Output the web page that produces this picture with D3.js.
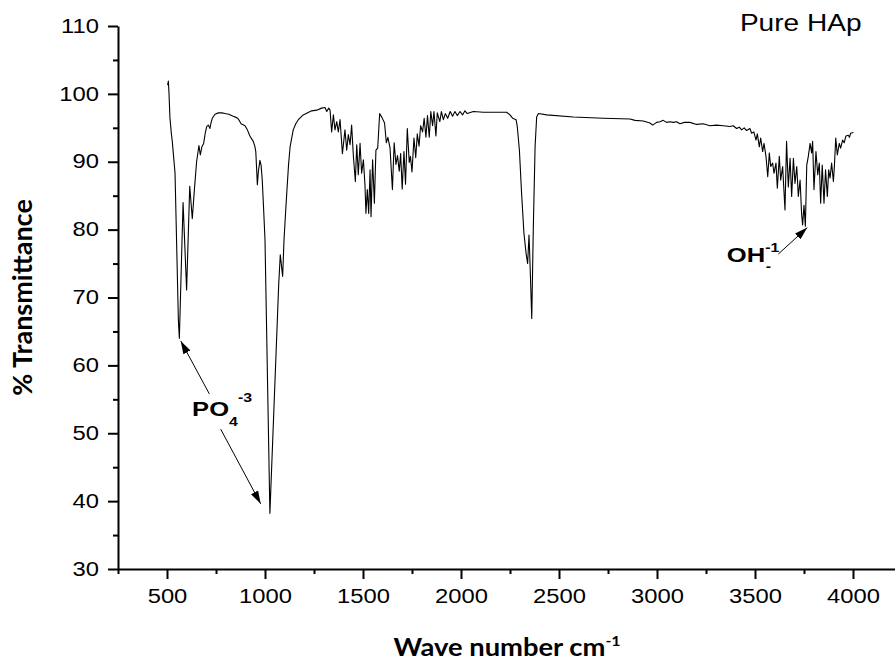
<!DOCTYPE html>
<html>
  <head>
    <meta charset="utf-8">
    <script src="https://d3js.org/d3.v7.min.js"></script>
    <title>FTIR spectrum - Pure HAp</title>
    <style>
      body {
        margin: 0px;
        background: #fff;
      }
      svg {
        display: block;
      }
      .tick text {
        fill: #000;
        font-size: 19.5px;
        font-family: "Liberation Sans", Arial, sans-serif;
      }
      .domain, .tick line {
        stroke: #000;
        stroke-width: 2px;
      }
      .axis-label {
        fill: #000;
        font-weight: bold;
        font-family: Lato, "Open Sans", sans-serif;
      }
      .note {
        fill: #000;
        font-family: "Liberation Sans", Arial, sans-serif;
      }
    </style>
  </head>
  <body>
    <svg width="895" height="661"></svg>
    <script>

      // spectrum (cm-1, % transmittance)
      const waveNumber = [
        503, 507, 510, 515, 522, 527, 541, 558, 563, 582, 600, 616, 629, 640, 651, 663, 670, 678, 687, 695,
        703, 711, 719, 725, 731, 745, 762, 780, 796, 815, 838, 855, 864, 878, 898, 910, 923, 940, 948, 953,
        958, 961, 966, 974, 980, 986, 993, 1000, 1025, 1070, 1078, 1090, 1097, 1104, 1111, 1120, 1128, 1144, 1157, 1170,
        1195, 1238, 1264, 1289, 1306, 1315, 1325, 1332, 1340, 1349, 1357, 1366, 1374, 1383, 1395, 1408, 1417, 1425, 1434, 1442,
        1451, 1461, 1468, 1476, 1485, 1493, 1502, 1510, 1515, 1522, 1529, 1536, 1541, 1549, 1558, 1566, 1575, 1585, 1597, 1610,
        1619, 1627, 1638, 1650, 1659, 1668, 1676, 1685, 1692, 1700, 1709, 1717, 1726, 1736, 1742, 1750, 1760, 1769, 1777, 1786,
        1794, 1804, 1812, 1821, 1829, 1838, 1846, 1855, 1862, 1872, 1879, 1892, 1900, 1910, 1920, 1932, 1945, 1957, 1969, 1981,
        1995, 2008, 2020, 2032, 2063, 2114, 2182, 2233, 2250, 2264, 2281, 2287, 2298, 2309, 2321, 2332, 2340, 2347, 2351, 2361,
        2369, 2378, 2386, 2395, 2437, 2573, 2726, 2862, 2888, 2930, 2964, 2978, 2998, 3015, 3032, 3049, 3066, 3083, 3100, 3117,
        3140, 3168, 3202, 3236, 3270, 3304, 3338, 3372, 3389, 3406, 3420, 3432, 3445, 3457, 3474, 3483, 3494, 3505, 3512, 3522,
        3529, 3539, 3546, 3556, 3565, 3573, 3580, 3590, 3597, 3607, 3614, 3624, 3631, 3641, 3653, 3661, 3670, 3679, 3687, 3696,
        3704, 3713, 3721, 3730, 3738, 3743, 3750, 3757, 3764, 3772, 3781, 3789, 3794, 3801, 3811, 3820, 3828, 3835, 3843, 3852,
        3860, 3869, 3876, 3883, 3891, 3900, 3905, 3912, 3920, 3930, 3937, 3947, 3955, 3964, 3976, 3982, 3988, 4002
      ];
      const transmittance = [
        101.3, 101.9, 100.2, 96.5, 94.2, 93.0, 88.3, 66.7, 64.0, 84.0, 71.1, 86.4, 81.6, 86.0, 90.0, 92.4, 91.0, 92.2, 92.7, 94.2,
        95.2, 95.4, 94.9, 95.8, 96.4, 97.0, 97.2, 97.2, 97.1, 97.0, 96.7, 96.5, 96.3, 95.6, 95.3, 94.7, 93.8, 93.0, 92.3, 91.5,
        88.5, 86.6, 88.5, 90.2, 89.5, 87.3, 83.0, 78.5, 38.2, 72.0, 76.3, 73.1, 78.5, 82.0, 85.4, 89.5, 92.2, 94.7, 95.6, 96.2,
        96.9, 97.5, 97.6, 97.9, 98.0, 97.4, 97.9, 97.6, 94.4, 96.9, 94.7, 95.9, 94.4, 96.2, 91.2, 94.7, 91.7, 94.0, 92.5, 95.4,
        90.8, 87.1, 92.5, 88.1, 92.7, 88.3, 90.3, 86.6, 82.4, 85.9, 82.4, 88.8, 81.9, 90.3, 83.9, 91.7, 92.0, 97.1, 96.5, 95.7,
        92.8, 93.6, 92.0, 85.9, 92.8, 89.6, 90.9, 88.6, 91.2, 86.0, 91.5, 86.7, 94.9, 89.9, 90.8, 88.5, 93.5, 90.6, 94.1, 92.3,
        95.3, 94.4, 96.4, 93.6, 96.8, 93.6, 97.4, 95.3, 97.4, 93.8, 97.2, 95.9, 97.4, 96.2, 97.1, 96.4, 97.4, 96.7, 97.4, 96.8,
        97.4, 96.9, 97.5, 97.1, 97.4, 97.3, 97.3, 97.3, 96.9, 96.4, 96.2, 95.2, 91.7, 85.4, 79.5, 76.5, 75.0, 79.2, 76.0, 66.9,
        80.4, 92.2, 96.6, 97.1, 96.9, 96.6, 96.4, 96.3, 96.1, 96.0, 95.7, 95.4, 95.8, 95.9, 96.1, 95.8, 95.9, 95.8, 95.9, 95.6,
        95.8, 95.8, 95.5, 95.6, 95.3, 95.4, 95.3, 95.2, 95.3, 94.9, 95.1, 94.7, 95.0, 94.6, 94.9, 94.2, 94.4, 93.2, 94.1, 92.2,
        93.5, 91.5, 92.7, 90.8, 87.8, 91.3, 89.3, 89.8, 88.3, 89.8, 86.1, 90.8, 87.3, 89.3, 82.9, 93.0, 86.3, 90.5, 84.9, 90.5,
        86.8, 89.3, 84.9, 87.3, 82.2, 80.7, 83.6, 80.5, 89.5, 90.8, 92.7, 91.3, 93.0, 85.9, 91.5, 88.1, 89.8, 83.9, 89.5, 83.9,
        88.8, 84.9, 88.8, 87.6, 89.8, 87.1, 89.3, 93.5, 91.0, 92.7, 92.0, 93.2, 92.8, 93.8, 93.9, 93.6, 94.2, 94.3
      ];

      const xTicks = [500, 1000, 1500, 2000, 2500, 3000, 3500, 4000];
      const xMinorTicks = [250, 750, 1250, 1750, 2250, 2750, 3250, 3750, 4250];
      const yTicks = [30, 40, 50, 60, 70, 80, 90, 100, 110];
      const yMinorTicks = [35, 45, 55, 65, 75, 85, 95, 105];

      // arrows and labels, in data units [wave number, transmittance]
      const arrows = [
        { from: [716, 55.8], to: [570, 63.6] },
        { from: [774, 50.6], to: [978, 39.6] },
        { from: [3619, 76.4], to: [3767, 80.3] }
      ];

      const svg = d3.select('svg');
      const stretch = 'scale(1.22,1)';

      const xScale = d3.scaleLinear().domain([250, 4250]).range([118, 902]);
      const yScale = d3.scaleLinear().domain([30, 110]).range([569, 26]);

      const data = waveNumber.map((w, i) => ({ w: w, t: transmittance[i] }));

      // minor ticks first, majors on top
      svg.append('g')
          .attr('transform', `translate(0,${yScale(30)})`)
          .call(d3.axisBottom(xScale).tickValues(xMinorTicks).tickSize(5).tickFormat(''))
          .call(g => g.select('.domain').remove());
      svg.append('g')
          .attr('transform', `translate(${xScale(250)},0)`)
          .call(d3.axisLeft(yScale).tickValues(yMinorTicks).tickSize(5).tickFormat(''))
          .call(g => g.select('.domain').remove());

      const xAxisG = svg.append('g')
          .attr('transform', `translate(0,${yScale(30)})`)
          .call(d3.axisBottom(xScale).tickValues(xTicks).tickFormat(d3.format('d'))
            .tickSize(10).tickSizeOuter(0).tickPadding(10));
      xAxisG.selectAll('.tick text').attr('transform', stretch);

      const yAxisG = svg.append('g')
          .attr('transform', `translate(${xScale(250)},0)`)
          .call(d3.axisLeft(yScale).tickValues(yTicks).tickFormat(d3.format('d'))
            .tickSize(10).tickSizeOuter(0));
      yAxisG.selectAll('.tick text')
          .attr('x', 0)
          .attr('transform', `translate(-19,0) ${stretch}`);

      // spectrum
      svg.append('path')
          .datum(data)
          .attr('fill', 'none')
          .attr('stroke', '#000')
          .attr('stroke-width', 1.1)
          .attr('stroke-linejoin', 'round')
          .attr('d', d3.line().x(d => xScale(d.w)).y(d => yScale(d.t)));

      // axis titles
      svg.append('text')
          .attr('class', 'axis-label')
          .attr('transform', `translate(32,${yScale(70)}) rotate(-90)`)
          .attr('text-anchor', 'middle')
          .style('font-size', '27px')
          .text('% Transmittance');

      const xl = svg.append('text')
          .attr('class', 'axis-label')
          .attr('transform', `translate(507,656) scale(1.14,1)`)
          .attr('text-anchor', 'middle')
          .style('font-size', '24px');
      xl.append('tspan').text('Wave number cm');
      xl.append('tspan').attr('dy', -10).style('font-size', '14px').text('-1');

      // arrows
      svg.append('defs').append('marker')
          .attr('id', 'head')
          .attr('viewBox', '0 0 13 8')
          .attr('refX', 13).attr('refY', 4)
          .attr('markerWidth', 13).attr('markerHeight', 8)
          .attr('markerUnits', 'userSpaceOnUse')
          .attr('orient', 'auto')
        .append('path')
          .attr('d', 'M0,0L13,4L0,8Z')
          .attr('fill', '#000');

      svg.selectAll('.arrow').data(arrows)
        .enter().append('line')
          .attr('class', 'arrow')
          .attr('x1', d => xScale(d.from[0])).attr('y1', d => yScale(d.from[1]))
          .attr('x2', d => xScale(d.to[0])).attr('y2', d => yScale(d.to[1]))
          .attr('stroke', '#000')
          .attr('stroke-width', 1)
          .attr('marker-end', 'url(#head)');

      // labels
      const po = svg.append('text')
          .attr('class', 'note')
          .attr('transform', `translate(${xScale(628)},${yScale(52.5)}) ${stretch}`)
          .style('font-weight', 'bold')
          .style('font-size', '21px');
      po.append('tspan').text('PO');
      po.append('tspan').attr('dy', 10).style('font-size', '13px').text('4');
      po.append('tspan').attr('dy', -24).style('font-size', '13px').text('-3');

      const oh = svg.append('text')
          .attr('class', 'note')
          .attr('transform', `translate(${xScale(3356)},${yScale(75.3)}) ${stretch}`)
          .style('font-weight', 'bold')
          .style('font-size', '21px');
      oh.append('tspan').text('OH');
      oh.append('tspan').attr('dy', -10).style('font-size', '13px').text('-1');
      oh.append('tspan').attr('dx', -11).attr('dy', 19).style('font-size', '13px').text('-');

      svg.append('text')
          .attr('class', 'note')
          .attr('transform', `translate(${xScale(3423)},${yScale(109.3)}) ${stretch}`)
          .style('font-size', '23px')
          .text('Pure HAp');

    </script>
  </body>
</html>
